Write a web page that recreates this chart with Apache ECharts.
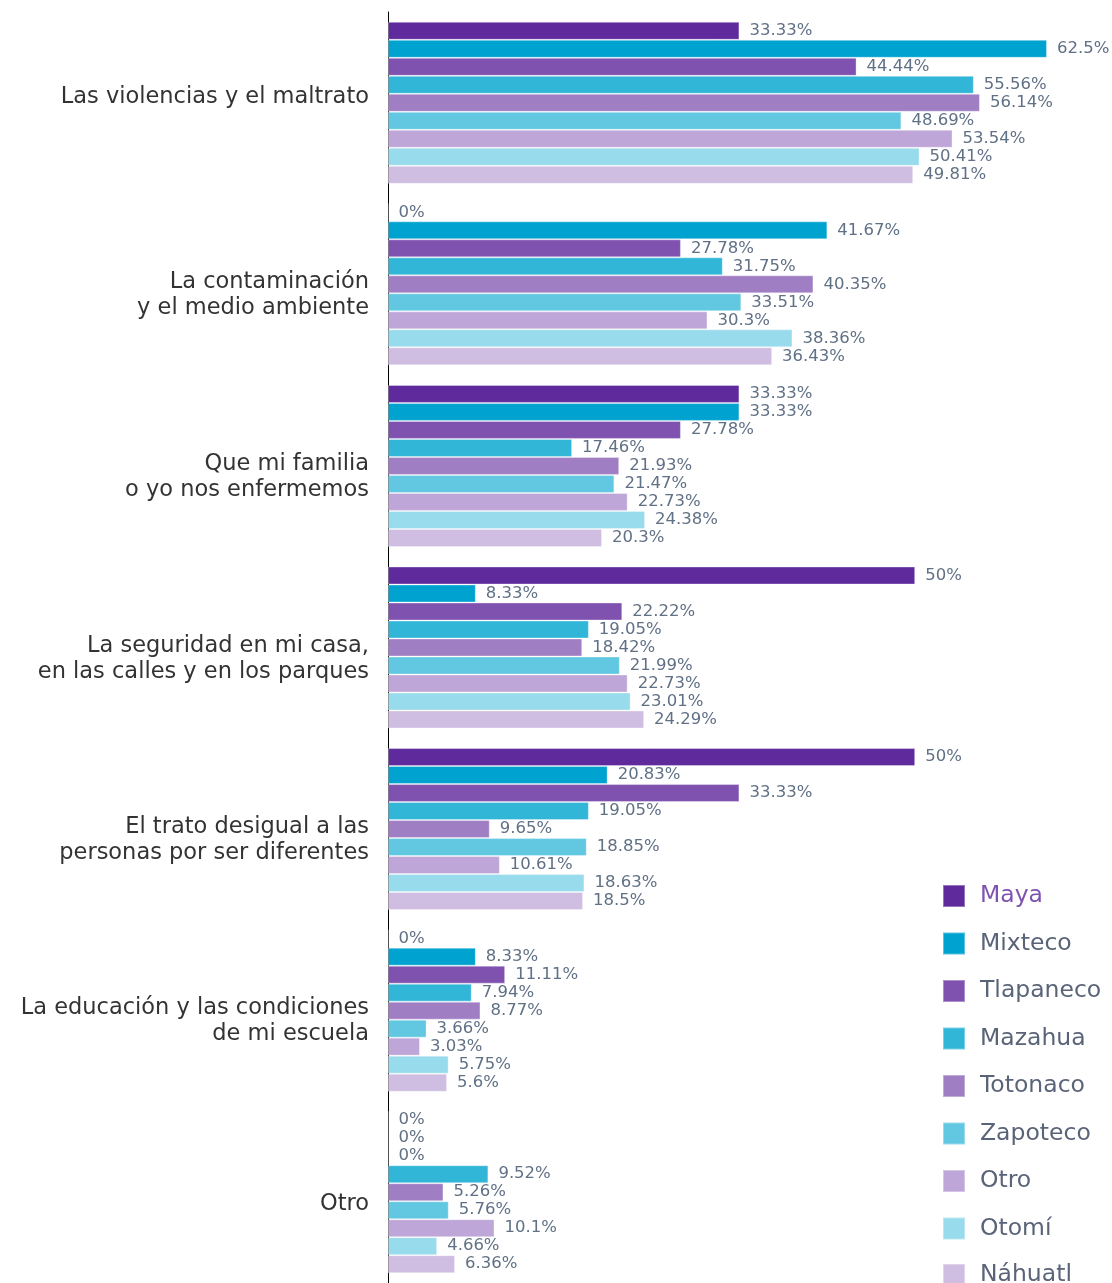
<!DOCTYPE html>
<html>
<head>
<meta charset="utf-8">
<script src="https://cdn.jsdelivr.net/npm/echarts@6/dist/echarts.min.js"></script>
<style>
  html, body { margin: 0; padding: 0; background: #fff; }
  #chart { width: 1112px; height: 1283px; }
</style>
</head>
<body>
<div id="chart"></div>
<script>
const categories = [
    'Las violencias y el maltrato',
    'La contaminación\ny el medio ambiente',
    'Que mi familia\no yo nos enfermemos',
    'La seguridad en mi casa,\nen las calles y en los parques',
    'El trato desigual a las\npersonas por ser diferentes',
    'La educación y las condiciones\nde mi escuela',
    'Otro'
];
const groupNames = ['Maya', 'Mixteco', 'Tlapaneco', 'Mazahua', 'Totonaco', 'Zapoteco', 'Otro', 'Otomí', 'Náhuatl'];
const maya = [33.33, 0, 33.33, 50, 50, 0, 0];
const mixteco = [62.5, 41.67, 33.33, 8.33, 20.83, 8.33, 0];
const tlapaneco = [44.44, 27.78, 27.78, 22.22, 33.33, 11.11, 0];
const mazahua = [55.56, 31.75, 17.46, 19.05, 19.05, 7.94, 9.52];
const totonaco = [56.14, 40.35, 21.93, 18.42, 9.65, 8.77, 5.26];
const zapoteco = [48.69, 33.51, 21.47, 21.99, 18.85, 3.66, 5.76];
const otro = [53.54, 30.3, 22.73, 22.73, 10.61, 3.03, 10.1];
const otomi = [50.41, 38.36, 24.38, 23.01, 18.63, 5.75, 4.66];
const nahuatl = [49.81, 36.43, 20.3, 24.29, 18.5, 5.6, 6.36];
const allValues = [maya, mixteco, tlapaneco, mazahua, totonaco, zapoteco, otro, otomi, nahuatl];
const colors = ['#5e2a9c', '#00a3cf', '#7f52b0', '#32b6d8', '#a07ec4', '#62c8e2', '#bfa6d8', '#98dbec', '#cfbde2'];

// desplazamiento vertical de cada etiqueta de categoría (px, + hacia abajo)
const labelShift = [-6, 11, 11, 12, 11, 11, 12];

const FONT = 'DejaVu Sans';
const chart = echarts.init(document.getElementById('chart'));

const series = groupNames.map(function (name, i) {
    return {
        name: name,
        type: 'bar',
        data: allValues[i],
        barWidth: 18,
        barGap: '0%',
        itemStyle: {
            color: colors[i],
            borderColor: 'rgba(255,255,255,0.35)',
            borderWidth: 1
        },
        label: {
            show: true,
            position: 'right',
            distance: 10,
            formatter: function (p) { return p.value + '%'; },
            color: '#607085',
            fontFamily: FONT,
            fontSize: 16.5
        }
    };
});

// rich text: una línea vacía arriba o abajo para mover el bloque
const rich = {};
labelShift.forEach(function (s, i) {
    rich['g' + i] = { lineHeight: Math.abs(s) * 2, fontSize: 1 };
});

const legendText = {
    color: '#5a6478',
    fontFamily: FONT,
    fontSize: 23.5,
    lineHeight: 22,
    padding: [0, 0, 0, 10]
};

chart.setOption({
    animation: false,
    color: colors,
    grid: {
        left: 388,
        right: 65,
        top: 12,
        bottom: 0,
        containLabel: false
    },
    xAxis: {
        type: 'value',
        min: 0,
        max: 62.5,
        show: false
    },
    yAxis: {
        type: 'category',
        inverse: true,
        data: categories,
        axisLine: { show: true, lineStyle: { color: '#000', width: 1 } },
        axisTick: { show: false },
        axisLabel: {
            margin: 19,
            color: '#333',
            fontFamily: FONT,
            fontSize: 22.5,
            lineHeight: 26,
            align: 'right',
            rich: rich,
            formatter: function (v, i) {
                const gap = '{g' + i + '| }';
                return labelShift[i] >= 0 ? gap + '\n' + v : v + '\n' + gap;
            }
        }
    },
    legend: [{
        orient: 'vertical',
        left: 942,
        top: 884,
        padding: 0,
        itemWidth: 22,
        itemHeight: 22,
        itemGap: 23.5,
        icon: 'rect',
        textStyle: legendText,
        data: groupNames.slice(0, 8).map(function (n, i) {
            return i === 0 ? { name: n, textStyle: { color: '#7f52b0' } } : { name: n };
        })
    }, {
        orient: 'vertical',
        left: 942,
        top: 1263,
        padding: 0,
        itemWidth: 22,
        itemHeight: 22,
        icon: 'rect',
        textStyle: legendText,
        data: groupNames.slice(8)
    }],
    series: series
});
</script>
</body>
</html>
